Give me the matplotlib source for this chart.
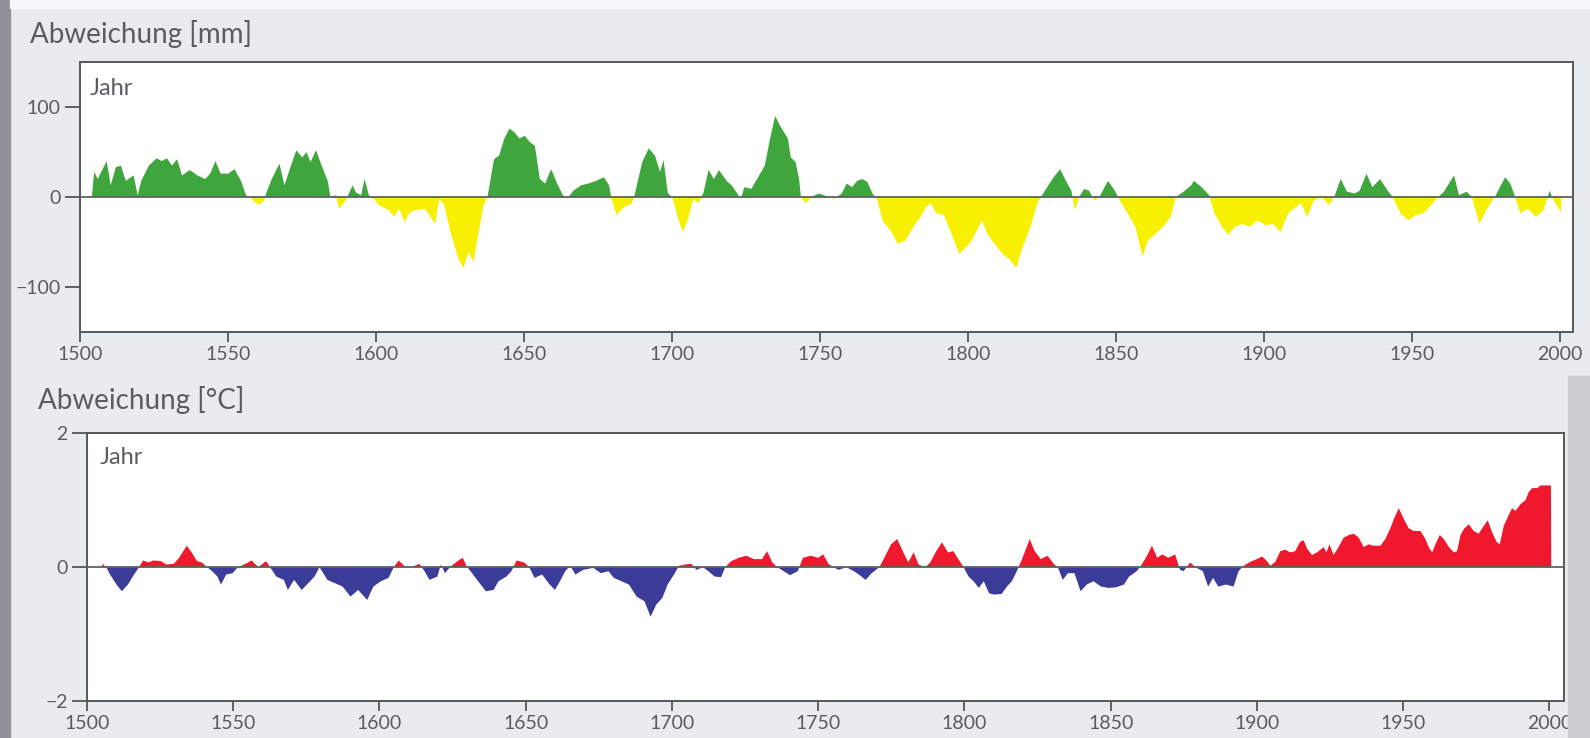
import numpy as np
import matplotlib.pyplot as plt
from matplotlib.patches import Rectangle

# Niederschlag: Abweichung [mm], Jahreswerte
precip_years = [1504.0, 1504.8, 1506.0, 1509.0, 1510.4, 1512.1, 1513.8, 1515.5, 1518.1, 1519.5,
                1520.7, 1523.3, 1525.9, 1527.6, 1529.4, 1531.1, 1532.8, 1534.5, 1537.1, 1539.7,
                1542.3, 1544.0, 1545.8, 1547.5, 1550.1, 1552.2, 1554.4, 1556.1, 1557.9, 1560.4,
                1562.2, 1563.0, 1564.8, 1567.4, 1569.1, 1570.8, 1573.1, 1575.1, 1576.5, 1577.9,
                1579.8, 1581.2, 1583.8, 1584.6, 1586.4, 1587.6, 1589.8, 1592.1, 1593.3, 1595.0,
                1596.2, 1597.6, 1599.3, 1601.0, 1604.5, 1606.2, 1607.9, 1609.7, 1611.4, 1613.1,
                1616.6, 1620.0, 1621.4, 1623.1, 1625.2, 1627.8, 1629.5, 1631.3, 1633.0, 1634.7,
                1636.4, 1637.7, 1639.9, 1641.6, 1643.4, 1645.1, 1646.8, 1648.5, 1650.3, 1652.0,
                1653.7, 1655.4, 1657.2, 1659.2, 1661.5, 1663.2, 1664.6, 1666.7, 1669.3, 1671.8,
                1674.4, 1677.0, 1678.8, 1679.6, 1681.3, 1683.9, 1686.5, 1687.4, 1690.0, 1692.2,
                1694.3, 1696.0, 1697.2, 1698.6, 1700.3, 1702.1, 1703.8, 1705.5, 1707.3, 1709.0,
                1710.7, 1712.4, 1714.2, 1715.9, 1718.5, 1720.2, 1721.9, 1723.3, 1724.5, 1726.8,
                1728.8, 1731.4, 1733.2, 1734.9, 1736.6, 1739.2, 1740.2, 1741.8, 1743.0, 1743.6,
                1745.3, 1747.0, 1749.7, 1752.2, 1754.8, 1757.4, 1759.1, 1760.9, 1762.6, 1764.3,
                1766.0, 1767.8, 1769.5, 1771.2, 1773.8, 1776.4, 1779.0, 1781.6, 1784.1, 1785.9,
                1787.6, 1789.3, 1791.9, 1794.5, 1797.1, 1799.7, 1801.4, 1803.1, 1804.8, 1806.6,
                1809.1, 1811.7, 1814.3, 1816.4, 1818.6, 1821.2, 1823.8, 1825.5, 1827.2, 1829.0,
                1831.2, 1833.3, 1835.0, 1836.2, 1837.6, 1839.3, 1841.0, 1842.8, 1844.5, 1846.2,
                1847.4, 1849.7, 1851.4, 1854.0, 1856.6, 1859.1, 1860.9, 1863.4, 1866.0, 1868.6,
                1870.3, 1872.9, 1875.5, 1876.4, 1879.0, 1881.6, 1883.3, 1885.9, 1888.1, 1890.2,
                1892.8, 1895.3, 1897.9, 1900.5, 1903.1, 1905.7, 1908.3, 1910.9, 1912.6, 1914.7,
                1916.9, 1919.5, 1922.1, 1923.8, 1926.0, 1928.1, 1930.7, 1932.4, 1934.7, 1936.7,
                1939.3, 1941.9, 1943.6, 1946.2, 1948.8, 1951.4, 1954.0, 1956.6, 1958.3, 1960.9,
                1964.3, 1966.0, 1968.6, 1970.3, 1972.9, 1975.5, 1978.1, 1979.8, 1981.6, 1983.3,
                1985.0, 1986.7, 1989.3, 1991.9, 1994.5, 1996.6, 1998.0, 2000.5]
precip_vals = [0, 28, 20, 40, 13, 33, 35, 18, 24, 2,
               18, 35, 43, 40, 43, 35, 42, 24, 30, 24,
               20, 26, 40, 26, 26, 31, 18, 2, -2, -9,
               -4, 5, 20, 37, 13, 30, 52, 44, 50, 39,
               52, 39, 17, 0, 2, -13, -4, 13, 5, 2,
               20, 2, -2, -9, -15, -22, -13, -28, -17, -15,
               -13, -30, -2, -9, -39, -68, -79, -61, -72, -39,
               -9, 0, 42, 46, 65, 76, 72, 65, 68, 61,
               57, 20, 15, 31, 13, 2, -2, 7, 13, 15,
               18, 22, 13, -2, -20, -11, -7, 2, 39, 54,
               46, 28, 41, 5, -2, -24, -39, -24, -2, -7,
               5, 30, 20, 30, 18, 13, 5, -2, 11, 9,
               20, 35, 65, 90, 79, 65, 44, 39, 20, 0,
               -7, 0, 4, 1, -2, 4, 15, 11, 18, 20,
               17, 4, -4, -26, -37, -52, -48, -33, -22, -11,
               -7, -18, -20, -41, -63, -55, -48, -37, -26, -41,
               -52, -63, -70, -79, -55, -33, -4, 4, 13, 22,
               31, 17, 7, -15, 0, 9, 7, -4, 0, 11,
               18, 7, -4, -18, -33, -66, -48, -41, -33, -22,
               0, 6, 13, 18, 11, 2, -18, -33, -42, -33,
               -30, -33, -26, -31, -30, -39, -18, -11, -7, -22,
               -4, 0, -9, 0, 20, 6, 4, 7, 26, 11,
               20, 7, 0, -18, -26, -20, -18, -9, -2, 6,
               24, 2, 6, 0, -30, -13, 0, 11, 22, 15,
               0, -18, -13, -22, -15, 7, -4, -17]

# Temperatur: Abweichung [°C], Jahreswerte
temp_years = [1505.2, 1506.6, 1507.9, 1510.1, 1511.9, 1514.0, 1516.1, 1517.8, 1519.2, 1521.0,
              1522.7, 1525.3, 1527.1, 1529.7, 1531.5, 1534.1, 1535.8, 1537.6, 1539.3, 1541.1,
              1542.8, 1544.6, 1545.8, 1547.6, 1549.8, 1551.6, 1553.8, 1556.3, 1558.6, 1561.2,
              1562.6, 1564.7, 1567.3, 1568.7, 1570.8, 1573.4, 1575.2, 1577.8, 1579.5, 1582.2,
              1584.8, 1587.4, 1590.1, 1592.7, 1595.8, 1597.9, 1600.5, 1603.1, 1604.9, 1606.6,
              1608.4, 1611.0, 1613.6, 1615.4, 1617.1, 1619.8, 1621.0, 1622.4, 1624.1, 1626.7,
              1628.5, 1629.7, 1632.0, 1634.6, 1636.4, 1639.0, 1640.7, 1643.4, 1645.1, 1646.9,
              1649.5, 1651.2, 1653.0, 1655.6, 1658.2, 1660.0, 1661.7, 1663.5, 1665.2, 1667.0,
              1669.6, 1673.1, 1675.7, 1678.3, 1680.1, 1682.7, 1685.3, 1687.9, 1690.6, 1692.7,
              1694.6, 1696.7, 1698.5, 1700.7, 1702.4, 1704.5, 1706.6, 1708.4, 1710.6, 1712.4,
              1714.6, 1716.8, 1718.2, 1720.3, 1722.8, 1725.4, 1728.1, 1730.8, 1732.5, 1734.3,
              1736.0, 1740.4, 1743.0, 1744.8, 1747.4, 1750.0, 1751.7, 1753.5, 1755.2, 1757.0,
              1759.6, 1762.2, 1763.9, 1766.2, 1768.3, 1770.9, 1772.6, 1774.9, 1777.0, 1779.1,
              1780.8, 1782.6, 1784.3, 1786.6, 1788.3, 1790.1, 1792.3, 1794.4, 1796.2, 1797.9,
              1799.7, 1801.4, 1803.1, 1804.9, 1806.6, 1808.4, 1810.1, 1812.7, 1814.5, 1816.2,
              1817.9, 1819.7, 1822.3, 1824.0, 1826.1, 1828.4, 1830.7, 1831.9, 1833.6, 1835.4,
              1837.6, 1839.7, 1841.8, 1844.1, 1846.7, 1849.3, 1851.9, 1854.5, 1856.3, 1858.9,
              1860.6, 1862.4, 1864.1, 1865.9, 1867.6, 1869.7, 1872.0, 1873.7, 1874.9, 1877.2,
              1878.9, 1881.5, 1883.3, 1885.0, 1886.8, 1889.4, 1892.0, 1893.7, 1895.4, 1897.7,
              1900.0, 1901.7, 1903.2, 1904.6, 1906.3, 1908.0, 1909.7, 1911.4, 1913.1, 1914.8,
              1916.0, 1917.1, 1918.8, 1920.5, 1921.7, 1922.8, 1923.7, 1924.8, 1926.2, 1927.9,
              1929.6, 1931.4, 1933.1, 1934.8, 1936.5, 1938.2, 1939.9, 1942.2, 1943.9, 1945.6,
              1947.0, 1948.5, 1950.2, 1951.9, 1953.6, 1955.9, 1957.6, 1958.7, 1959.9, 1961.0,
              1962.5, 1963.9, 1965.6, 1967.3, 1968.4, 1969.6, 1970.9, 1972.4, 1974.1, 1975.8,
              1977.3, 1978.9, 1980.4, 1981.9, 1983.0, 1984.4, 1986.1, 1987.2, 1988.4, 1990.1,
              1991.8, 1992.9, 1994.1, 1995.8, 1996.9, 1998.6, 2000.5, 2000.6]
temp_vals = [0.05, 0.0, -0.11, -0.26, -0.36, -0.26, -0.11, 0.0, 0.10, 0.07,
             0.10, 0.09, 0.04, 0.05, 0.14, 0.32, 0.22, 0.09, 0.07, 0.0,
             -0.06, -0.14, -0.26, -0.11, -0.09, 0.0, 0.04, 0.10, 0.0, 0.09,
             0.0, -0.14, -0.19, -0.34, -0.19, -0.34, -0.26, -0.14, 0.0, -0.19,
             -0.24, -0.29, -0.44, -0.34, -0.49, -0.29, -0.21, -0.16, 0.0, 0.10,
             0.02, 0.0, 0.05, -0.06, -0.19, -0.14, 0.04, -0.09, 0.0, 0.09,
             0.14, 0.02, -0.11, -0.26, -0.36, -0.34, -0.21, -0.14, -0.06, 0.10,
             0.07, 0.0, -0.16, -0.11, -0.26, -0.34, -0.21, -0.06, 0.02, -0.11,
             -0.04, -0.01, -0.09, -0.06, -0.16, -0.21, -0.26, -0.44, -0.51, -0.74,
             -0.56, -0.46, -0.26, -0.11, 0.02, 0.04, 0.05, -0.04, 0.0, -0.06,
             -0.14, -0.15, 0.0, 0.09, 0.14, 0.17, 0.12, 0.12, 0.24, 0.07,
             0.0, -0.12, -0.06, 0.14, 0.17, 0.14, 0.19, 0.05, 0.0, -0.04,
             0.0, -0.06, -0.11, -0.19, -0.09, 0.0, 0.14, 0.34, 0.42, 0.22,
             0.07, 0.22, 0.04, 0.0, 0.07, 0.22, 0.37, 0.22, 0.24, 0.12,
             0.0, -0.14, -0.21, -0.31, -0.21, -0.39, -0.41, -0.40, -0.29, -0.21,
             -0.06, 0.12, 0.42, 0.24, 0.12, 0.17, 0.04, 0.0, -0.19, -0.09,
             -0.09, -0.36, -0.26, -0.21, -0.29, -0.31, -0.30, -0.26, -0.14, -0.06,
             0.04, 0.17, 0.32, 0.14, 0.19, 0.14, 0.19, -0.04, -0.06, 0.07,
             0.0, -0.06, -0.29, -0.16, -0.29, -0.26, -0.29, -0.06, 0.02, 0.08,
             0.12, 0.16, 0.10, 0.02, 0.08, 0.24, 0.26, 0.22, 0.24, 0.38,
             0.40, 0.28, 0.18, 0.22, 0.26, 0.30, 0.22, 0.34, 0.18, 0.30,
             0.44, 0.48, 0.50, 0.44, 0.30, 0.34, 0.32, 0.32, 0.42, 0.58,
             0.74, 0.88, 0.72, 0.58, 0.54, 0.54, 0.42, 0.30, 0.22, 0.34,
             0.48, 0.42, 0.30, 0.22, 0.24, 0.48, 0.58, 0.64, 0.54, 0.50,
             0.60, 0.70, 0.52, 0.38, 0.34, 0.62, 0.78, 0.88, 0.84, 0.94,
             1.00, 1.12, 1.18, 1.18, 1.22, 1.22, 1.22, 0.0]

year_ticks = [1500, 1550, 1600, 1650, 1700, 1750, 1800, 1850, 1900, 1950, 2000]

plt.rcParams['font.family'] = ['Lato', 'DejaVu Sans']
text_col = '#5a5d60'
axis_col = '#555759'

fig = plt.figure(figsize=(15.9, 7.38), dpi=100, facecolor='#e8ecee')
# Scan-Ränder
fig.patches.append(Rectangle((0, 0), 0.006, 1, transform=fig.transFigure,
                             color='#8f9298', zorder=0))
fig.patches.append(Rectangle((0.006, 0.989), 0.994, 0.011, transform=fig.transFigure,
                             color='#f6f8f9', zorder=0))
fig.patches.append(Rectangle((0.986, 0.0), 0.014, 0.49, transform=fig.transFigure,
                             color='#c9cbcd', zorder=0))


def style_axes(ax, ylim, yticks, xlim):
    ax.set_facecolor('white')
    ax.set_xlim(*xlim)
    ax.set_ylim(*ylim)
    ax.set_xticks(year_ticks)
    ax.set_yticks(yticks)
    for sp in ax.spines.values():
        sp.set_color(axis_col)
        sp.set_linewidth(1.4)
    ax.tick_params(axis='y', direction='out', length=11, width=1.3, color=axis_col,
                   labelsize=14, labelcolor=text_col, pad=3)
    ax.tick_params(axis='x', direction='out', length=7, width=1.3, color=axis_col,
                   labelsize=14, labelcolor=text_col, pad=3)
    ax.axhline(0, color='#5f6163', lw=1.3, zorder=3)


# oben: Niederschlag
ax1 = fig.add_axes([0.0503, 0.550, 0.939, 0.366])
style_axes(ax1, (-150, 150), [-100, 0, 100], (1500, 2004.5))
py = np.array(precip_years)
pv = np.array(precip_vals)
ax1.fill_between(py, pv, 0, where=pv >= 0, interpolate=True, color='#3fa53d', lw=0)
ax1.fill_between(py, pv, 0, where=pv <= 0, interpolate=True, color='#f7f000', lw=0)
ax1.text(0.0067, 0.878, 'Jahr', transform=ax1.transAxes, fontsize=17,
         color=text_col, va='baseline')

# unten: Temperatur
ax2 = fig.add_axes([0.0547, 0.050, 0.929, 0.363])
style_axes(ax2, (-2, 2), [-2, 0, 2], (1500, 2005))
ty = np.array(temp_years)
tv = np.array(temp_vals)
ax2.fill_between(ty, tv, 0, where=tv >= 0, interpolate=True, color='#f0182d', lw=0)
ax2.fill_between(ty, tv, 0, where=tv <= 0, interpolate=True, color='#3b3b98', lw=0)
ax2.text(0.0085, 0.885, 'Jahr', transform=ax2.transAxes, fontsize=17,
         color=text_col, va='baseline')

fig.text(0.019, 0.942, 'Abweichung [mm]', fontsize=20, color=text_col, va='baseline')
fig.text(0.024, 0.446, 'Abweichung [°C]', fontsize=20, color=text_col, va='baseline')

fig.savefig('out.png', dpi=100, facecolor=fig.get_facecolor())
